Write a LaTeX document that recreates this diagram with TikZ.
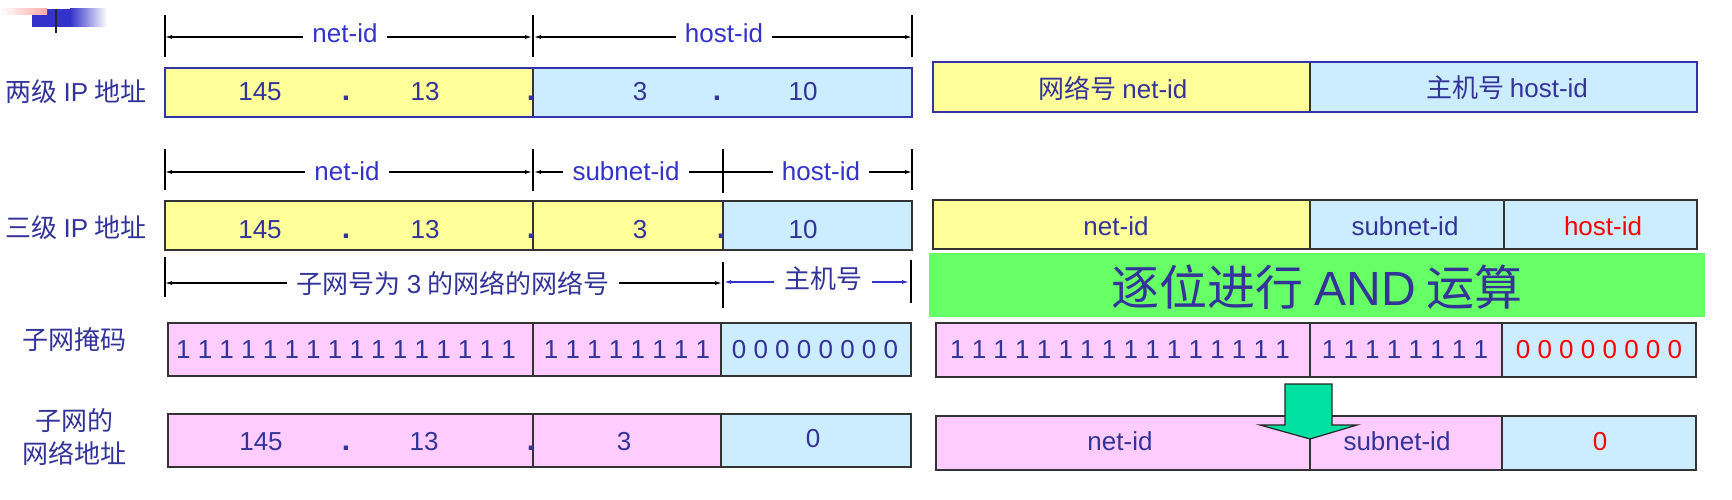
\documentclass[tikz,border=0pt]{standalone}
\usepackage{fontspec}
\setmainfont{Liberation Sans}
\newfontfamily\cjk{Noto Sans CJK SC}
\usetikzlibrary{arrows.meta}
\definecolor{tblue}{HTML}{333399}
\definecolor{lblue}{HTML}{3333CC}
\definecolor{cyel}{HTML}{FFFF99}
\definecolor{cblu}{HTML}{CCECFF}
\definecolor{cpnk}{HTML}{FFCCFF}
\definecolor{cgrn}{HTML}{66FF66}
\definecolor{carr}{HTML}{00E0A0}
\definecolor{bord}{HTML}{333333}
\definecolor{bordb}{HTML}{3333AA}
\definecolor{decob}{HTML}{3333CC}
\definecolor{decop}{HTML}{FFA8A8}
\begin{document}
\begin{tikzpicture}[x=1pt,y=-1pt,
  frame/.style={draw=bord, line width=1.4pt},
  frameb/.style={draw=bordb, line width=1.4pt},
  divider/.style={draw=bord, line width=1.1pt},
  txt/.style={text=tblue, font=\fontsize{26}{30}\selectfont, inner sep=0pt, anchor=base},
  dot/.style={txt, font=\fontsize{30}{30}\selectfont\bfseries},
  rtxt/.style={txt, text=red},
  lab/.style={text=tblue, font=\fontsize{26}{33}\selectfont\cjk, inner sep=0pt, anchor=center, align=center},
  dimlab/.style={text=lblue, font=\fontsize{26}{30}\selectfont, inner xsep=9pt, inner ysep=0pt, anchor=base},
  dimlabz/.style={text=tblue, font=\fontsize{26}{30}\selectfont\cjk, inner xsep=10pt, inner ysep=0pt, anchor=center},
  tickln/.style={draw=black, line width=1.1pt},
  dimln/.style={draw=black, line width=1.1pt},
  dimarr/.style={draw=black, line width=1.1pt, -{Latex[length=7pt,width=4pt]}},
  bluarr/.style={draw=lblue, line width=1.1pt, -{Latex[length=7pt,width=4pt]}},
  banner/.style={text=tblue, font=\fontsize{48}{54}\selectfont\cjk, inner sep=0pt}
]
\useasboundingbox (0,0) rectangle (1732,500);

% decoration top-left
\fill[decob] (32,9) rectangle (70,27);
\shade[left color=decob, right color=white] (70,9) rectangle (107,27);
\shade[left color=white, right color=decop] (0,9) rectangle (47,15);
\draw[line width=2.4pt, black!85] (56,9) -- (56,33);

% ---------- left labels ----------
\node[lab] (l1) at (76,92) {两级 {\rmfamily IP} 地址};
\node[lab] (l2) at (76,228) {三级 {\rmfamily IP} 地址};
\node[lab] (l3) at (75,340) {子网掩码};
\node[lab] (l4) at (75,437) {子网的\\网络地址};

% ---------- dimension row 1 ----------
\draw[tickln] (165,15) -- (165,57);
\draw[tickln] (533,15) -- (533,57);
\draw[tickln] (912,15) -- (912,57);
\coordinate (a1) at (165,37);
\coordinate (a2) at (533,37);
\coordinate (a3) at (912,37);
\node[dimlab] (d1n) at (345,43) {net-id};
\node[dimlab] (d1h) at (724,43) {host-id};
\draw[dimarr] (d1n.west |- a1) -- (a1);
\draw[dimarr] (d1n.east |- a2) -- ([xshift=-1pt]a2);
\draw[dimarr] (d1h.west |- a2) -- ([xshift=1pt]a2);
\draw[dimarr] (d1h.east |- a3) -- (a3);

% ---------- row 1 left ----------
\fill[cyel] (165,68) rectangle (533,117);
\fill[cblu] (533,68) rectangle (912,117);
\draw[divider] (533,68) -- (533,117);
\draw[frameb] (165,68) rectangle (912,117);
\node[txt] (r1a) at (260,101) {145};
\node[dot] (r1b) at (346,101) {.};
\node[txt] (r1c) at (425,101) {13};
\node[dot] (r1d) at (531,101) {.};
\node[txt] (r1e) at (640,101) {3};
\node[dot] (r1f) at (717,101) {.};
\node[txt] (r1g) at (803,101) {10};

% ---------- dimension row 2 ----------
\draw[tickln] (165,149) -- (165,190);
\draw[tickln] (533,149) -- (533,191);
\draw[tickln] (723,149) -- (723,193);
\draw[tickln] (912,149) -- (912,190);
\coordinate (b1) at (165,172);
\coordinate (b2) at (533,172);
\coordinate (b3) at (723,172);
\coordinate (b4) at (912,172);
\node[dimlab] (d2n) at (347,180) {net-id};
\node[dimlab] (d2s) at (626,180) {subnet-id};
\node[dimlab] (d2h) at (821,180) {host-id};
\draw[dimarr] (d2n.west |- b1) -- (b1);
\draw[dimarr] (d2n.east |- b2) -- ([xshift=-1pt]b2);
\draw[dimarr] (d2s.west |- b2) -- ([xshift=1pt]b2);
\draw[dimln] (d2s.east |- b3) -- (d2h.west |- b3);
\draw[dimarr] (d2h.east |- b4) -- (b4);

% ---------- row 2 left ----------
\fill[cyel] (165,201) rectangle (723,250);
\fill[cblu] (723,201) rectangle (912,250);
\draw[divider] (533,201) -- (533,250);
\draw[divider] (723,201) -- (723,250);
\draw[frame] (165,201) rectangle (912,250);
\node[txt] (r2a) at (260,238) {145};
\node[dot] (r2b) at (346,238) {.};
\node[txt] (r2c) at (425,238) {13};
\node[dot] (r2d) at (531,238) {.};
\node[txt] (r2e) at (640,238) {3};
\node[dot] (r2f) at (721,238) {.};
\node[txt] (r2g) at (803,238) {10};

% ---------- dimension row 3 ----------
\draw[tickln] (165,257) -- (165,297);
\draw[tickln] (723,262) -- (723,308);
\draw[tickln] (911,260) -- (911,303);
\coordinate (c1) at (165,283);
\coordinate (c2) at (723,283);
\coordinate (c3) at (911,282);
\node[dimlabz] (d3n) at (453,283) {子网号为 {\rmfamily 3} 的网络的网络号};
\node[dimlabz] (d3h) at (823,279) {主机号};
\draw[dimarr] (d3n.west |- c1) -- (c1);
\draw[dimarr] (d3n.east |- c2) -- ([xshift=-1pt]c2);
\draw[bluarr] (d3h.west |- c3) -- ([xshift=1pt]c2 |- c3);
\draw[bluarr] (d3h.east |- c3) -- ([xshift=-2pt]c3);

% ---------- row 3 left (mask) ----------
\fill[cpnk] (168,323) rectangle (721,376);
\fill[cblu] (721,323) rectangle (911,376);
\draw[divider] (533,323) -- (533,376);
\draw[divider] (721,323) -- (721,376);
\draw[frame] (168,323) rectangle (911,376);
\node[txt] (m1) at (346,358) {1 1 1 1 1 1 1 1 1 1 1 1 1 1 1 1};
\node[txt] (m2) at (627,358) {1 1 1 1 1 1 1 1};
\node[txt] (m3) at (815,358) {0 0 0 0 0 0 0 0};

% ---------- row 4 left ----------
\fill[cpnk] (168,414) rectangle (721,467);
\fill[cblu] (721,414) rectangle (911,467);
\draw[divider] (533,414) -- (533,467);
\draw[divider] (721,414) -- (721,467);
\draw[frame] (168,414) rectangle (911,467);
\node[txt] (s1) at (261,450) {145};
\node[dot] (s2) at (346,450) {.};
\node[txt] (s3) at (424,450) {13};
\node[dot] (s4) at (531,450) {.};
\node[txt] (s5) at (624,450) {3};
\node[txt] (s6) at (813,447) {0};

% ---------- right row 1 ----------
\fill[cyel] (933,62) rectangle (1310,112);
\fill[cblu] (1310,62) rectangle (1697,112);
\draw[divider] (1310,62) -- (1310,112);
\draw[frameb] (933,62) rectangle (1697,112);
\node[txt, anchor=center, font=\fontsize{26}{30}\selectfont\cjk] (q1) at (1113,88) {网络号 {\rmfamily net-id}};
\node[txt, anchor=center, font=\fontsize{26}{30}\selectfont\cjk] (q2) at (1507,88) {主机号 {\rmfamily host-id}};

% ---------- right row 2 ----------
\fill[cyel] (933,200) rectangle (1310,249);
\fill[cblu] (1310,200) rectangle (1697,249);
\draw[divider] (1310,200) -- (1310,249);
\draw[divider] (1504,200) -- (1504,249);
\draw[frame] (933,200) rectangle (1697,249);
\node[txt] (p1) at (1116,235) {net-id};
\node[txt] (p2) at (1405,235) {subnet-id};
\node[rtxt] (p3) at (1603,235) {host-id};

% ---------- banner ----------
\fill[cgrn] (929,253) rectangle (1705,317);
\node[banner] (ban) at (1317,287) {逐位进行 {\rmfamily AND} 运算};

% ---------- right row 3 ----------
\fill[cpnk] (936,323) rectangle (1502,377);
\fill[cblu] (1502,323) rectangle (1696,377);
\draw[divider] (1310,323) -- (1310,377);
\draw[divider] (1502,323) -- (1502,377);
\draw[frame] (936,323) rectangle (1696,377);
\node[txt] (n1) at (1120,358) {1 1 1 1 1 1 1 1 1 1 1 1 1 1 1 1};
\node[txt] (n2) at (1405,358) {1 1 1 1 1 1 1 1};
\node[rtxt] (n3) at (1599,358) {0 0 0 0 0 0 0 0};

% ---------- right row 4 ----------
\fill[cpnk] (936,416) rectangle (1502,470);
\fill[cblu] (1502,416) rectangle (1696,470);
\draw[divider] (1310,416) -- (1310,470);
\draw[divider] (1502,416) -- (1502,470);
\draw[frame] (936,416) rectangle (1696,470);
\node[txt] (o1) at (1120,450) {net-id};
\node[txt] (o2) at (1397,450) {subnet-id};
\node[rtxt] (o3) at (1600,450) {0};

% ---------- green down arrow ----------
\draw[fill=carr, draw=black!85, line width=1.2pt, line join=miter]
  (1285,384) -- (1332,384) -- (1332,425) -- (1357,425) -- (1310,439)
  -- (1260,425) -- (1285,425) -- cycle;
\end{tikzpicture}
\end{document}
